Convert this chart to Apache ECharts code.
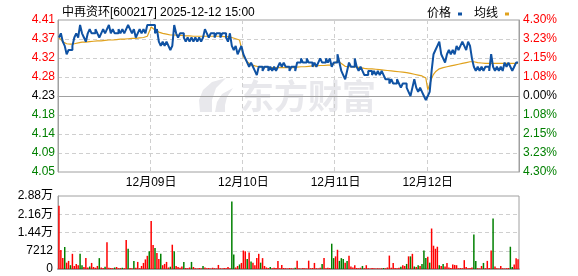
<!DOCTYPE html>
<html><head><meta charset="utf-8">
<script src="https://cdn.jsdelivr.net/npm/echarts@6/dist/echarts.min.js"></script>
<style>html,body{margin:0;padding:0;background:#fff}#c{width:578px;height:276px}</style>
</head><body><div id="c"></div>
<script>
const titleText = '中再资环[600217] 2025-12-12 15:00';
const days = ['12月08日','12月09日','12月10日','12月11日','12月12日'];
const prevClose = 4.23;
const priceTicks = ['4.05','4.09','4.14','4.18','4.23','4.28','4.32','4.37','4.41'];
const pctTicks = ['4.30%','3.23%','2.15%','1.08%','0.00%','1.08%','2.15%','3.23%','4.30%'];

const price1 = [4.37,4.38,4.36,4.35,4.33,4.34,4.34,4.35, 4.37,4.38,4.37,4.40,4.38,4.37,4.36,4.38,
  4.39,4.38,4.38,4.39,4.38,4.37,4.38,4.39, 4.38,4.39,4.40,4.38,4.39,4.38,4.38,4.39,
  4.38,4.39,4.38,4.39,4.40,4.39,4.38,4.39, 4.37,4.38,4.39,4.38,4.39,4.38,4.40,4.40];
const price2 = [4.40,4.40,4.38,4.39,4.36,4.35,4.36,4.35, 4.36,4.35,4.34,4.35,4.40,4.38,4.37,4.38,
  4.38,4.37,4.36,4.37,4.36,4.37,4.36,4.37, 4.36,4.37,4.36,4.37,4.39,4.38,4.37,4.38,
  4.38,4.37,4.38,4.38,4.37,4.38,4.38,4.37, 4.36,4.38,4.35,4.34,4.35,4.33,4.34,4.35];
const price3 = [4.33,4.32,4.31,4.30,4.31,4.30,4.29,4.28, 4.30,4.30,4.29,4.30,4.30,4.29,4.30,4.29,
  4.30,4.29,4.30,4.31,4.30,4.31,4.30,4.30, 4.29,4.30,4.30,4.29,4.31,4.31,4.32,4.31,
  4.31,4.32,4.31,4.31,4.30,4.31,4.30,4.31, 4.32,4.31,4.31,4.32,4.31,4.32,4.30,4.31];
const price4 = [4.31,4.33,4.31,4.29,4.28,4.27,4.29,4.31, 4.30,4.30,4.32,4.30,4.29,4.30,4.29,4.28,
  4.28,4.29,4.29,4.28,4.29,4.28,4.29,4.28, 4.29,4.28,4.27,4.27,4.26,4.27,4.26,4.26,
  4.27,4.26,4.25,4.26,4.26,4.25,4.24,4.23, 4.25,4.27,4.25,4.24,4.25,4.24,4.23,4.22];
const price5 = [4.23,4.24,4.29,4.33,4.34,4.35,4.36,4.33, 4.32,4.31,4.33,4.34,4.33,4.34,4.33,4.35,
  4.34,4.35,4.36,4.35,4.34,4.36,4.35,4.32, 4.30,4.29,4.30,4.29,4.30,4.29,4.30,4.30,
  4.29,4.33,4.30,4.29,4.30,4.29,4.30,4.29, 4.31,4.30,4.31,4.30,4.29,4.30,4.31,4.31];

const avg1 = [4.370,4.365,4.360,4.357,4.355,4.354,4.354,4.354, 4.355,4.356,4.357,4.358,4.359,4.359,4.359,4.360,
  4.360,4.361,4.361,4.361,4.362,4.362,4.362,4.363, 4.363,4.363,4.364,4.364,4.364,4.365,4.365,4.365,
  4.366,4.366,4.366,4.367,4.367,4.367,4.368,4.368, 4.368,4.369,4.369,4.370,4.370,4.371,4.373,4.376];
const avg2 = [4.395,4.392,4.388,4.385,4.383,4.381,4.380,4.379, 4.378,4.377,4.376,4.376,4.376,4.376,4.375,4.375,
  4.375,4.375,4.374,4.374,4.374,4.374,4.373,4.373, 4.373,4.373,4.373,4.373,4.373,4.373,4.373,4.373,
  4.373,4.373,4.373,4.373,4.373,4.372,4.372,4.372, 4.372,4.371,4.370,4.369,4.367,4.366,4.364,4.362];
const avg3 = [4.325,4.318,4.312,4.308,4.305,4.303,4.302,4.300, 4.300,4.299,4.299,4.299,4.299,4.298,4.298,4.298,
  4.298,4.298,4.298,4.298,4.298,4.298,4.298,4.298, 4.298,4.298,4.298,4.298,4.299,4.299,4.300,4.300,
  4.300,4.301,4.301,4.301,4.302,4.302,4.302,4.302, 4.303,4.303,4.303,4.303,4.304,4.304,4.304,4.304];
const avg4 = [4.310,4.315,4.312,4.308,4.304,4.301,4.300,4.300, 4.300,4.300,4.300,4.299,4.298,4.298,4.297,4.296,
  4.296,4.295,4.295,4.295,4.294,4.294,4.294,4.293, 4.293,4.292,4.292,4.291,4.290,4.290,4.289,4.289,
  4.288,4.288,4.288,4.287,4.287,4.286,4.285,4.284, 4.283,4.282,4.281,4.280,4.279,4.278,4.276,4.273];
const avg5 = [4.245,4.258,4.272,4.282,4.288,4.292,4.295,4.297, 4.298,4.299,4.300,4.301,4.302,4.303,4.304,4.305,
  4.306,4.307,4.308,4.309,4.310,4.311,4.312,4.312, 4.312,4.311,4.310,4.309,4.309,4.308,4.308,4.308,
  4.308,4.308,4.308,4.308,4.308,4.308,4.308,4.308, 4.308,4.308,4.308,4.308,4.308,4.308,4.308,4.308];

const vol1 = [25000,7500,4300,8700,2500,3200,1500,6000, 1200,2000,1500,6000,1500,800,4300,600,
  1000,2400,800,500,1200,4300,600,400, 900,10600,500,400,300,600,800,300,
  400,500,300,11500,8000,400,300,3200, 500,2800,300,1200,2400,3800,5200,7000];
const vol2 = [19000,9500,8300,6300,4000,6000,1500,2000, 2800,600,900,9600,7000,1200,800,500,
  1000,2800,400,300,600,2800,800,300, 200,400,300,1200,600,300,400,200,
  500,300,200,1600,300,200,400,300, 800,300,26700,5700,600,1200,1800,2400];
const vol3 = [7300,7000,4000,6500,3000,2500,1500,4300, 6000,2500,4300,1200,600,400,800,300,
  500,400,3200,300,1600,400,300,200, 400,300,200,500,3300,300,200,400,
  300,200,3300,300,400,2400,300,200, 500,2000,4300,300,500,400,10000,4300];
const vol4 = [5000,7600,3200,4300,4000,2500,3200,5200, 1000,600,1500,400,300,500,1200,300,
  1500,300,200,400,300,200,300,200, 300,400,300,600,5300,500,2400,400,
  300,500,900,1500,1200,2000,5000,5000, 6000,1000,800,1500,1200,2000,7300,4300];
const vol5 = [4800,2500,16000,9200,8000,8800,1500,1200, 2000,1000,2400,600,400,1800,1600,1500,
  300,400,300,3500,800,300,400,600, 13600,3200,300,200,1200,2400,300,3200,
  400,7300,20000,1000,300,200,1200,300, 200,300,400,8800,800,1800,4200,3900];
// r = up (red), g = down (green)
const dir1 = 'rrrgrrgr' + 'rrrggrrr' + 'grrrrgrr' + 'grrrrgrr' + 'rgrrgrrg' + 'rrrrrrrg';
const dir2 = 'rrgrrgrr' + 'rrgrgrrr' + 'rgrrrgrr' + 'rrrgrrrr' + 'rrrrrrrr' + 'rrggrrgr';
const dir3 = 'rrgrgrrr' + 'rgrrrrgr' + 'rrrrrrrr' + 'rrrgrrrr' + 'rrrrrrrr' + 'rgrrrrgg';
const dir4 = 'rrgggrgr' + 'rrrrrrgr' + 'rrrrrrrr' + 'rgrrrrrr' + 'rrgrrgrg' + 'rgrgrggg';
const dir5 = 'rgrrrrgr' + 'grrrrrrr' + 'rrrrrrrr' + 'ggrrrgrr' + 'rrgrrrrr' + 'rrrggrrr';

const SLOTS = 48;
const sessions = [[9, 30], [13, 0]];
const slotTimes = [];
sessions.forEach(function (s) {
  for (let i = 0; i < SLOTS / 2; i++) {
    const m = s[0] * 60 + s[1] + i * 5;
    slotTimes.push(String(Math.floor(m / 60)).padStart(2, '0') + ':' + String(m % 60).padStart(2, '0'));
  }
});
const categories = [];
days.forEach(function (d) { slotTimes.forEach(function (t) { categories.push(d + ' ' + t); }); });

const price = [].concat(price1, price2, price3, price4, price5);
const avg = [].concat(avg1, avg2, avg3, avg4, avg5);
const vol = [].concat(vol1, vol2, vol3, vol4, vol5);
const dir = (dir1 + dir2 + dir3 + dir4 + dir5).split('');

const RED = '#ff0000', GREEN = '#008000', BLACK = '#000000';
const FONT = "'Liberation Sans','Noto Sans CJK SC',sans-serif";
const limitPct = 4.30;
const unitMin = -430, unitMax = 430, unitStep = 107.5;
function tickIdx(v) { return Math.round((Number(v) - unitMin) / unitStep); }
function tickColor(v) { const i = tickIdx(v); return i > 4 ? RED : (i < 4 ? GREEN : BLACK); }
const isDayStart = function (i) { return i > 0 && i % SLOTS === 0; };
const dashLine = { show: true, lineStyle: { color: '#cfcfcf', type: [4, 3], width: 1 } };

const chart = echarts.init(document.getElementById('c'), null, { renderer: 'canvas' });
chart.setOption({
  animation: false,
  textStyle: { fontFamily: FONT },
  title: { text: titleText, left: 57, top: 2, textStyle: { fontSize: 12, fontWeight: 'normal', color: '#000', fontFamily: FONT } },
  legend: {
    data: ['价格', '均线'], right: 64, top: 3, align: 'right', icon: 'rect',
    itemWidth: 4, itemHeight: 3, itemGap: 12,
    textStyle: { fontSize: 12, color: '#000', fontFamily: FONT, padding: [0, 2, 0, 0] }
  },
  graphic: [
    { type: 'text', x: 240, y: 79, z: -10, silent: true,
      style: { text: '东方财富', fill: '#e8e8ec', font: "bold 34px 'Noto Sans CJK SC'" } },
    { type: 'polygon', z: -10, silent: true,
      shape: { points: [[200,112],[199,100],[203,90],[212,82],[226,78],[216,88],[212,100],[212,112]] },
      style: { fill: '#e8e8ec' } },
    { type: 'polygon', z: -10, silent: true,
      shape: { points: [[215,112],[217,102],[222,94],[233,88],[227,97],[225,105],[225,112]] },
      style: { fill: '#e8e8ec' } }
  ],
  grid: [
    { left: 58, right: 59, top: 20, height: 152, show: true, borderColor: '#a0a0a0', borderWidth: 1 },
    { left: 58, right: 59, top: 196, height: 73, show: true, borderColor: '#a0a0a0', borderWidth: 1 }
  ],
  xAxis: [
    { type: 'category', gridIndex: 0, data: categories, boundaryGap: true,
      axisLine: { show: true, lineStyle: { color: '#a0a0a0' } }, axisTick: { show: false },
      axisLabel: { interval: isDayStart, formatter: function (v) { return v.split(' ')[0]; },
        color: '#000', fontSize: 12, margin: 5, fontFamily: FONT },
      splitLine: Object.assign({ interval: isDayStart }, dashLine) },
    { type: 'category', gridIndex: 1, data: categories, boundaryGap: true,
      axisLine: { show: true, lineStyle: { color: '#a0a0a0', width: 2 } }, axisTick: { show: false },
      axisLabel: { show: false }, splitLine: { show: false } }
  ],
  yAxis: [
    { type: 'value', gridIndex: 0, position: 'left', min: unitMin, max: unitMax, interval: unitStep,
      axisLine: { show: true, lineStyle: { color: '#a0a0a0' } }, axisTick: { show: false },
      axisLabel: { formatter: function (v) { return priceTicks[tickIdx(v)]; }, color: tickColor, fontSize: 12, margin: 3, fontFamily: FONT },
      splitLine: dashLine },
    { type: 'value', gridIndex: 0, position: 'right', min: unitMin, max: unitMax, interval: unitStep,
      axisLine: { show: true, lineStyle: { color: '#a0a0a0' } }, axisTick: { show: false },
      axisLabel: { formatter: function (v) { return pctTicks[tickIdx(v)]; }, color: tickColor, fontSize: 12, margin: 4, fontFamily: FONT },
      splitLine: { show: false } },
    { type: 'value', gridIndex: 0, show: false,
      min: prevClose * (1 - limitPct / 100), max: prevClose * (1 + limitPct / 100) },
    { type: 'value', gridIndex: 1, position: 'left', min: 0, max: 28848, interval: 7212,
      axisLine: { show: true, lineStyle: { color: '#a0a0a0' } }, axisTick: { show: false },
      axisLabel: { formatter: function (v) { return v >= 10000 ? (v / 10000).toFixed(2) + '万' : String(v); },
        color: '#000', fontSize: 12, margin: 5, fontFamily: FONT },
      splitLine: dashLine }
  ],
  series: [
    { name: '价格', type: 'line', xAxisIndex: 0, yAxisIndex: 2, data: price, step: 'end',
      showSymbol: false, symbol: 'none', color: '#0f52a3', lineStyle: { width: 2, color: '#0f52a3' }, z: 4 },
    { name: '均线', type: 'line', xAxisIndex: 0, yAxisIndex: 2, data: avg,
      showSymbol: false, symbol: 'none', color: '#e0a21e', lineStyle: { width: 1.2, color: '#e0a21e' }, z: 3 },
    { name: '成交量', type: 'bar', xAxisIndex: 1, yAxisIndex: 3, barWidth: 1.5,
      data: vol.map(function (v, i) { return { value: v, itemStyle: { color: dir[i] === 'g' ? GREEN : RED } }; }) }
  ]
});
</script>
</body></html>
